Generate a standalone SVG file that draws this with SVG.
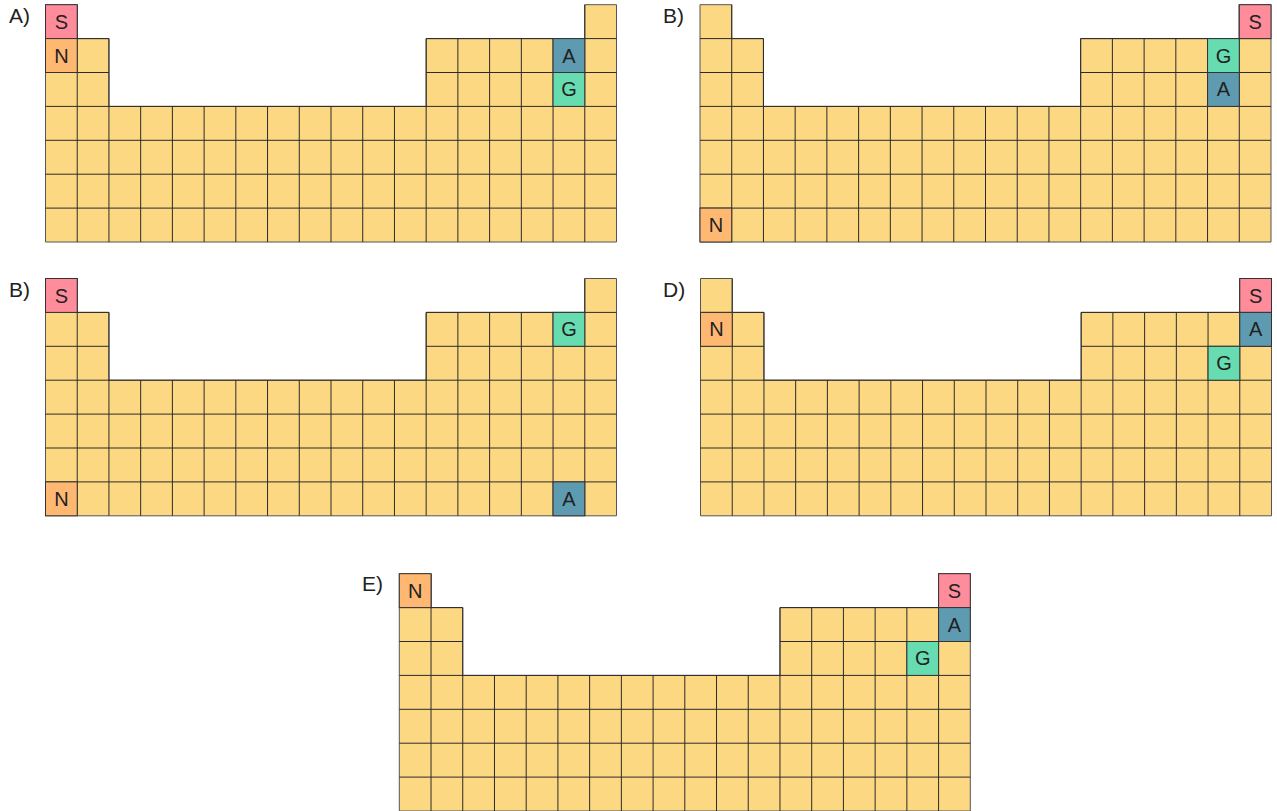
<svg xmlns="http://www.w3.org/2000/svg" xmlns:xlink="http://www.w3.org/1999/xlink" width="1277" height="811" viewBox="0 0 1277 811">
<style>
.lbl{font-family:"Liberation Sans",Arial,sans-serif;font-size:21px;fill:#222}
.t{font-family:"Liberation Sans",Arial,sans-serif;font-size:20px;fill:#222;text-anchor:middle}
.cell{stroke:#333;stroke-width:1}
.S{fill:#FF8C9B}.N{fill:#FFB872}.A{fill:#5E9BB1}.G{fill:#67DCB0}
</style>
<defs>
<g id="table">
<path d="M0,0H31.72V33.9H63.44V101.7H380.67V33.9H539.28V0H571V237.3H0Z" fill="#FDD882" stroke="#555" stroke-width="1"/>
<path fill="none" stroke="#2b2b2b" stroke-width="1" d="M31.72,0V237.3M63.44,33.9V237.3M95.17,101.7V237.3M126.89,101.7V237.3M158.61,101.7V237.3M190.33,101.7V237.3M222.06,101.7V237.3M253.78,101.7V237.3M285.5,101.7V237.3M317.22,101.7V237.3M348.94,101.7V237.3M380.67,33.9V237.3M412.39,33.9V237.3M444.11,33.9V237.3M475.83,33.9V237.3M507.56,33.9V237.3M539.28,0V237.3M0,33.9H63.44M380.67,33.9H571M0,67.8H63.44M380.67,67.8H571M0,101.7H571M0,135.6H571M0,169.5H571M0,203.4H571"/>
</g>
</defs>
<g id="panel-A">
<text class="lbl" x="9" y="23">A)</text>
<g transform="translate(45.5,4.7)">
<use xlink:href="#table"/>
<rect class="cell S" x="0" y="0" width="31.72" height="33.9"/><text class="t" x="15.86" y="24">S</text>
<rect class="cell N" x="0" y="33.9" width="31.72" height="33.9"/><text class="t" x="15.86" y="57.9">N</text>
<rect class="cell A" x="507.56" y="33.9" width="31.72" height="33.9"/><text class="t" x="523.42" y="57.9">A</text>
<rect class="cell G" x="507.56" y="67.8" width="31.72" height="33.9"/><text class="t" x="523.42" y="91.8">G</text>
</g>
</g>
<g id="panel-B1">
<text class="lbl" x="663" y="23">B)</text>
<g transform="translate(700,4.7)">
<use xlink:href="#table"/>
<rect class="cell S" x="539.28" y="0" width="31.72" height="33.9"/><text class="t" x="555.14" y="24">S</text>
<rect class="cell G" x="507.56" y="33.9" width="31.72" height="33.9"/><text class="t" x="523.42" y="57.9">G</text>
<rect class="cell A" x="507.56" y="67.8" width="31.72" height="33.9"/><text class="t" x="523.42" y="91.8">A</text>
<rect class="cell N" x="0" y="203.4" width="31.72" height="33.9"/><text class="t" x="15.86" y="227.4">N</text>
</g>
</g>
<g id="panel-B2">
<text class="lbl" x="9" y="297">B)</text>
<g transform="translate(45.5,278.5)">
<use xlink:href="#table"/>
<rect class="cell S" x="0" y="0" width="31.72" height="33.9"/><text class="t" x="15.86" y="24">S</text>
<rect class="cell G" x="507.56" y="33.9" width="31.72" height="33.9"/><text class="t" x="523.42" y="57.9">G</text>
<rect class="cell N" x="0" y="203.4" width="31.72" height="33.9"/><text class="t" x="15.86" y="227.4">N</text>
<rect class="cell A" x="507.56" y="203.4" width="31.72" height="33.9"/><text class="t" x="523.42" y="227.4">A</text>
</g>
</g>
<g id="panel-D">
<text class="lbl" x="663" y="297">D)</text>
<g transform="translate(700.5,278.5)">
<use xlink:href="#table"/>
<rect class="cell S" x="539.28" y="0" width="31.72" height="33.9"/><text class="t" x="555.14" y="24">S</text>
<rect class="cell N" x="0" y="33.9" width="31.72" height="33.9"/><text class="t" x="15.86" y="57.9">N</text>
<rect class="cell A" x="539.28" y="33.9" width="31.72" height="33.9"/><text class="t" x="555.14" y="57.9">A</text>
<rect class="cell G" x="507.56" y="67.8" width="31.72" height="33.9"/><text class="t" x="523.42" y="91.8">G</text>
</g>
</g>
<g id="panel-E">
<text class="lbl" x="362" y="591">E)</text>
<g transform="translate(399.3,573.7)">
<use xlink:href="#table"/>
<rect class="cell N" x="0" y="0" width="31.72" height="33.9"/><text class="t" x="15.86" y="24">N</text>
<rect class="cell S" x="539.28" y="0" width="31.72" height="33.9"/><text class="t" x="555.14" y="24">S</text>
<rect class="cell A" x="539.28" y="33.9" width="31.72" height="33.9"/><text class="t" x="555.14" y="57.9">A</text>
<rect class="cell G" x="507.56" y="67.8" width="31.72" height="33.9"/><text class="t" x="523.42" y="91.8">G</text>
</g>
</g>
</svg>
